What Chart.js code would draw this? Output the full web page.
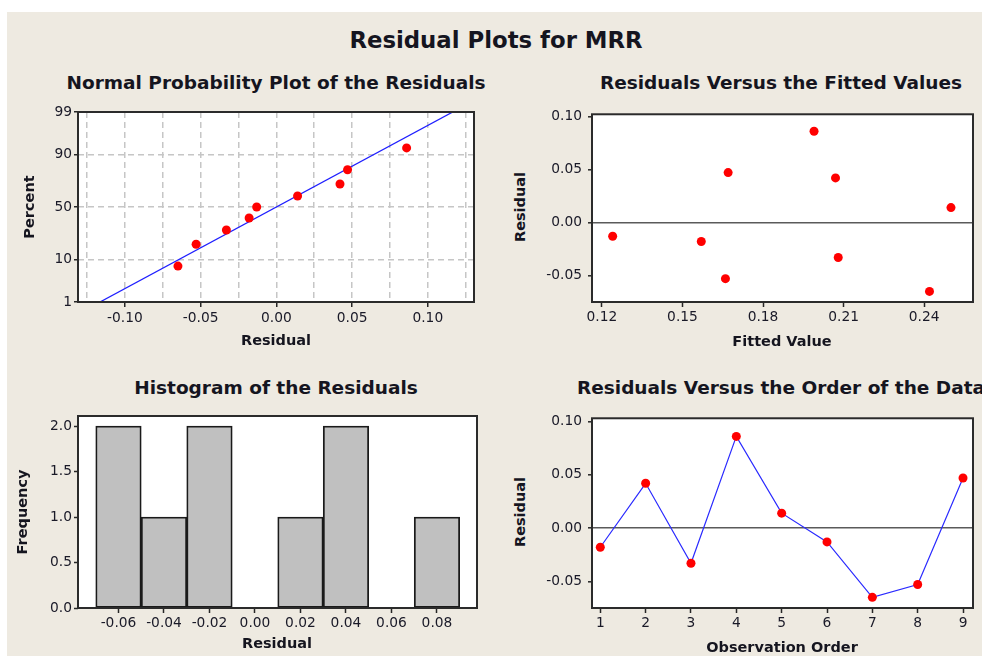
<!DOCTYPE html>
<html>
<head>
<meta charset="utf-8">
<script src="https://cdn.jsdelivr.net/npm/chart.js@4/dist/chart.umd.min.js"></script>
<style>
  html, body { margin:0; padding:0; width:982px; height:656px; overflow:hidden; background:#ffffff; }
  #bg { position:absolute; left:7px; top:12px; width:975px; height:644px; background:#EEEAE1; }
  .c { position:absolute; }
  .t { position:absolute; transform:translate(-50%,-50%); white-space:nowrap; font-family:'DejaVu Sans', sans-serif; font-weight:bold; color:#15151f; line-height:1; }
  .v { transform:translate(-50%,-50%) rotate(-90deg); }
  .main { font-size:22.8px; }
  .sub { font-size:18.5px; }
  .ax { font-size:14.5px; }
</style>
</head>
<body>
<div id="bg"></div>

<div class="t main" style="left:496px;top:40px">Residual Plots for MRR</div>
<div class="t sub" style="left:276px;top:83px">Normal Probability Plot of the Residuals</div>
<div class="t sub" style="left:781px;top:83px">Residuals Versus the Fitted Values</div>
<div class="t sub" style="left:276px;top:388px">Histogram of the Residuals</div>
<div class="t sub" style="left:781px;top:388px">Residuals Versus the Order of the Data</div>

<canvas id="c1" class="c" width="464" height="250" style="left:20px;top:100px"></canvas>
<canvas id="c2" class="c" width="452" height="250" style="left:530px;top:100px"></canvas>
<canvas id="c3" class="c" width="467" height="252" style="left:20px;top:404px"></canvas>
<canvas id="c4" class="c" width="452" height="252" style="left:530px;top:404px"></canvas>

<div class="t ax v" style="left:29px;top:207px">Percent</div>
<div class="t ax" style="left:276px;top:340px">Residual</div>
<div class="t ax v" style="left:520px;top:207px">Residual</div>
<div class="t ax" style="left:782px;top:341px">Fitted Value</div>
<div class="t ax v" style="left:22px;top:512px">Frequency</div>
<div class="t ax" style="left:277px;top:643px">Residual</div>
<div class="t ax v" style="left:520px;top:512px">Residual</div>
<div class="t ax" style="left:782px;top:647px">Observation Order</div>

<script>
// ---------------- data ----------------
const observationOrder = [1, 2, 3, 4, 5, 6, 7, 8, 9];
const residuals        = [-0.018, 0.042, -0.033, 0.086, 0.014, -0.013, -0.065, -0.053, 0.047];
const fittedValues     = [0.157, 0.207, 0.208, 0.199, 0.250, 0.124, 0.242, 0.166, 0.167];

// normal probability plot
const sortedResiduals  = [-0.065, -0.053, -0.033, -0.018, -0.013, 0.014, 0.042, 0.047, 0.086];
const probPercent      = [7.4, 18.1, 28.7, 39.4, 50.0, 60.6, 71.3, 81.9, 92.6];
const fitLineResidual  = [-0.1165, 0.1165];
const fitLinePercent   = [1, 99];
const percentTicks     = [1, 10, 50, 90, 99];
const normResidualGrid = [-0.125, -0.1, -0.075, -0.05, -0.025, 0, 0.025, 0.05, 0.075, 0.1, 0.125];
const normResidualLabeled = [-0.1, -0.05, 0, 0.05, 0.1];

// histogram
const binCenters = [-0.06, -0.04, -0.02, 0.00, 0.02, 0.04, 0.06, 0.08];
const binCounts  = [2, 1, 2, 0, 1, 2, 0, 1];
const freqTicks  = [0, 0.5, 1.0, 1.5, 2.0];

// axis ticks
const fittedTicks   = [0.12, 0.15, 0.18, 0.21, 0.24];
const residualTicks = [-0.05, 0.00, 0.05, 0.10];

// ---------------- helpers ----------------
function normInv(p) {
  const a=[-3.969683028665376e+01,2.209460984245205e+02,-2.759285104469687e+02,1.383577518672690e+02,-3.066479806614716e+01,2.506628277459239e+00];
  const b=[-5.447609879822406e+01,1.615858368580409e+02,-1.556989798598866e+02,6.680131188771972e+01,-1.328068155288572e+01];
  const c=[-7.784894002430293e-03,-3.223964580411365e-01,-2.400758277161838e+00,-2.549732539343734e+00,4.374664141464968e+00,2.938163982698783e+00];
  const d=[7.784695709041462e-03,3.224671290700398e-01,2.445134137142996e+00,3.754408661907416e+00];
  const pl=0.02425, ph=1-pl; let q, r;
  if (p < pl) { q=Math.sqrt(-2*Math.log(p)); return (((((c[0]*q+c[1])*q+c[2])*q+c[3])*q+c[4])*q+c[5])/((((d[0]*q+d[1])*q+d[2])*q+d[3])*q+1); }
  if (p <= ph) { q=p-0.5; r=q*q; return (((((a[0]*r+a[1])*r+a[2])*r+a[3])*r+a[4])*r+a[5])*q/(((((b[0]*r+b[1])*r+b[2])*r+b[3])*r+b[4])*r+1); }
  q=Math.sqrt(-2*Math.log(1-p)); return -(((((c[0]*q+c[1])*q+c[2])*q+c[3])*q+c[4])*q+c[5])/((((d[0]*q+d[1])*q+d[2])*q+d[3])*q+1);
}
const z = pct => normInv(pct / 100);
const near = (arr, v) => arr.some(a => Math.abs(a - v) < 1e-9);
const setTicks = vals => (scale => { scale.ticks = vals.map(v => ({ value: v })); });

Chart.defaults.font.family = "'DejaVu Sans', sans-serif";
Chart.defaults.font.size = 13.8;
Chart.defaults.color = '#1a1a28';
Chart.defaults.animation = false;
Chart.defaults.responsive = false;
Chart.defaults.devicePixelRatio = 1;
Chart.defaults.plugins.legend.display = false;
Chart.defaults.plugins.tooltip.enabled = false;

const TICK = '#262626';
const framePlugin = {
  id: 'frame',
  beforeDraw(chart) {
    const { ctx, chartArea: a } = chart;
    ctx.save(); ctx.fillStyle = '#ffffff';
    ctx.fillRect(a.left, a.top, a.right - a.left, a.bottom - a.top); ctx.restore();
  },
  afterDatasetsDraw(chart) {
    const { ctx, chartArea: a } = chart;
    ctx.save(); ctx.strokeStyle = '#2b2b2b'; ctx.lineWidth = 2;
    ctx.strokeRect(a.left, a.top, a.right - a.left, a.bottom - a.top); ctx.restore();
  }
};

// ---------------- 1. Normal probability plot ----------------
new Chart(document.getElementById('c1'), {
  type: 'scatter',
  data: {
    datasets: [
      { type: 'line', data: fitLineResidual.map((r, i) => ({ x: r, y: z(fitLinePercent[i]) })),
        borderColor: '#1f1fff', borderWidth: 1.3, pointRadius: 0, fill: false, order: 2 },
      { data: sortedResiduals.map((r, i) => ({ x: r, y: z(probPercent[i]) })),
        backgroundColor: '#ff0000', borderColor: '#ff0000', borderWidth: 0, pointRadius: 4.5, order: 1 }
    ]
  },
  options: {
    layout: { padding: { top: 12, right: 10, left: 0, bottom: 0 } },
    scales: {
      x: { type: 'linear', min: -0.131, max: 0.1305,
        afterBuildTicks: setTicks(normResidualGrid),
        afterFit: s => { s.height = 48; },
        border: { display: false, dash: [6, 4] },
        grid: { color: '#c6c6c6', lineWidth: 1.5, tickLength: 5, tickWidth: 1.5,
                tickColor: ctx => near(normResidualLabeled, ctx.tick.value) ? TICK : 'rgba(0,0,0,0)',
                tickBorderDash: [] },
        ticks: { padding: 3, maxRotation: 0, autoSkip: false,
                 callback: v => near(normResidualLabeled, v) ? v.toFixed(2) : '' } },
      y: { type: 'linear', min: z(1), max: z(99),
        afterBuildTicks: setTicks(percentTicks.map(z)),
        afterFit: s => { s.width = 58; },
        border: { display: false, dash: [6, 4] },
        grid: { color: '#c6c6c6', lineWidth: 1.5, tickLength: 4, tickWidth: 1.5, tickColor: TICK, tickBorderDash: [] },
        ticks: { padding: 2, autoSkip: false, callback: (v, i) => String(percentTicks[i]) } }
    }
  },
  plugins: [framePlugin]
});

// ---------------- 2. Residuals vs fitted ----------------
new Chart(document.getElementById('c2'), {
  type: 'scatter',
  data: {
    datasets: [
      { data: fittedValues.map((f, i) => ({ x: f, y: residuals[i] })),
        backgroundColor: '#ff0000', borderColor: '#ff0000', borderWidth: 0, pointRadius: 4.5 }
    ]
  },
  options: {
    layout: { padding: { top: 12, right: 9, left: 0, bottom: 0 } },
    scales: {
      x: { type: 'linear', min: 0.1163, max: 0.2582,
        afterBuildTicks: setTicks(fittedTicks),
        afterFit: s => { s.height = 48; },
        border: { display: false },
        grid: { color: 'rgba(0,0,0,0)', tickLength: 5, tickWidth: 1.5, tickColor: TICK },
        ticks: { padding: 2, maxRotation: 0, autoSkip: false, callback: v => v.toFixed(2) } },
      y: { type: 'linear', min: -0.075, max: 0.102,
        afterBuildTicks: setTicks(residualTicks),
        afterFit: s => { s.width = 62; },
        border: { display: false },
        grid: { color: ctx => Math.abs(ctx.tick.value) < 1e-9 ? '#5a5a5a' : 'rgba(0,0,0,0)',
                lineWidth: 1.6, tickLength: 4, tickWidth: 1.5, tickColor: TICK },
        ticks: { padding: 6, autoSkip: false, callback: v => v.toFixed(2) } }
    }
  },
  plugins: [framePlugin]
});

// ---------------- 3. Histogram ----------------
new Chart(document.getElementById('c3'), {
  type: 'bar',
  data: {
    datasets: [
      { data: binCenters.map((c, i) => ({ x: c, y: binCounts[i] })),
        backgroundColor: '#c0c0c0', borderColor: '#1a1a1a', borderWidth: 1.8, borderSkipped: false,
        barPercentage: 1, categoryPercentage: 1 }
    ]
  },
  options: {
    layout: { padding: { top: 12, right: 10, left: 0, bottom: 0 } },
    scales: {
      x: { type: 'linear', offset: false, min: -0.0778, max: 0.0976,
        afterBuildTicks: setTicks(binCenters),
        afterFit: s => { s.height = 48; },
        border: { display: false },
        grid: { offset: false, color: 'rgba(0,0,0,0)', tickLength: 5, tickWidth: 1.5, tickColor: TICK },
        ticks: { padding: 2, maxRotation: 0, autoSkip: false, callback: v => v.toFixed(2) } },
      y: { type: 'linear', min: 0, max: 2.11,
        afterBuildTicks: setTicks(freqTicks),
        afterFit: s => { s.width = 58; },
        border: { display: false },
        grid: { color: 'rgba(0,0,0,0)', tickLength: 4, tickWidth: 1.5, tickColor: TICK },
        ticks: { padding: 2, autoSkip: false, callback: v => v.toFixed(1) } }
    }
  },
  plugins: [framePlugin]
});

// ---------------- 4. Residuals vs order ----------------
new Chart(document.getElementById('c4'), {
  type: 'line',
  data: {
    datasets: [
      { data: observationOrder.map((o, i) => ({ x: o, y: residuals[i] })),
        borderColor: '#2a2aff', borderWidth: 1.2, fill: false, tension: 0,
        pointBackgroundColor: '#ff0000', pointBorderColor: '#ff0000', pointBorderWidth: 0, pointRadius: 4.5 }
    ]
  },
  options: {
    layout: { padding: { top: 12, right: 9, left: 0, bottom: 0 } },
    scales: {
      x: { type: 'linear', min: 0.817, max: 9.22,
        afterBuildTicks: setTicks(observationOrder),
        afterFit: s => { s.height = 48; },
        border: { display: false },
        grid: { color: 'rgba(0,0,0,0)', tickLength: 5, tickWidth: 1.5, tickColor: TICK },
        ticks: { padding: 2, maxRotation: 0, autoSkip: false, callback: v => String(v) } },
      y: { type: 'linear', min: -0.075, max: 0.103,
        afterBuildTicks: setTicks(residualTicks),
        afterFit: s => { s.width = 62; },
        border: { display: false },
        grid: { color: ctx => Math.abs(ctx.tick.value) < 1e-9 ? '#5a5a5a' : 'rgba(0,0,0,0)',
                lineWidth: 1.6, tickLength: 4, tickWidth: 1.5, tickColor: TICK },
        ticks: { padding: 6, autoSkip: false, callback: v => v.toFixed(2) } }
    }
  },
  plugins: [framePlugin]
});
</script>
</body>
</html>
